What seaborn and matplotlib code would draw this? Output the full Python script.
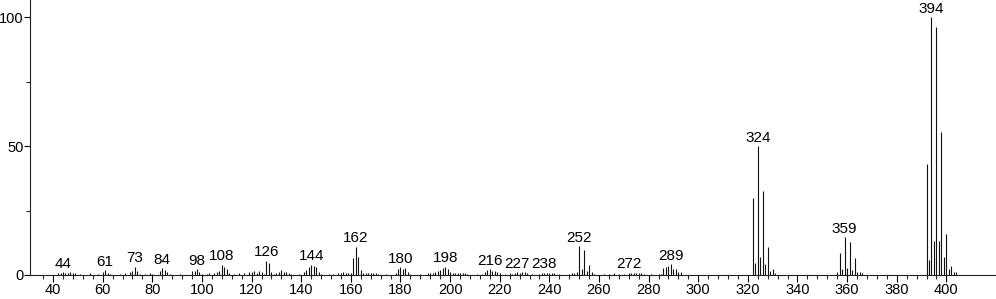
import numpy as np
import pandas as pd
import matplotlib
matplotlib.use("Agg")
import matplotlib.pyplot as plt
from matplotlib.ticker import FixedLocator
import seaborn as sns

# m/z values and relative intensities (%)
mz = [42, 43, 44, 45, 46, 47, 48, 49, 51, 55, 58, 60, 61, 62, 63, 67, 69, 71, 72, 73,
      74, 75, 77, 79, 80, 83, 84, 85, 86, 87, 91, 96, 97, 98, 99, 100, 102, 103, 105, 106,
      107, 108, 109, 110, 111, 113, 115, 117, 119, 120, 121, 122, 123, 124, 125, 126, 127, 128, 129, 130,
      131, 132, 133, 134, 135, 136, 139, 141, 142, 143, 144, 145, 146, 147, 148, 151, 153, 155, 156, 157,
      158, 159, 160, 161, 162, 163, 164, 165, 166, 167, 168, 169, 170, 171, 174, 178, 179, 180, 181, 182,
      183, 184, 188, 191, 192, 193, 194, 195, 196, 197, 198, 199, 200, 201, 202, 203, 204, 205, 206, 207,
      211, 213, 214, 215, 216, 217, 218, 219, 220, 222, 224, 225, 226, 227, 228, 229, 230, 231, 233, 236,
      237, 238, 239, 240, 241, 242, 244, 248, 249, 250, 251, 252, 253, 254, 255, 256, 257, 258, 262, 264,
      266, 268, 270, 272, 273, 274, 275, 276, 277, 278, 281, 284, 285, 286, 287, 288, 289, 290, 291, 292,
      293, 322, 323, 324, 325, 326, 327, 328, 329, 330, 331, 356, 357, 358, 359, 360, 361, 362, 363, 364,
      365, 366, 392, 393, 394, 395, 396, 397, 398, 399, 400, 401, 402, 403, 404]
intensity = [0.6, 0.8, 1.2, 0.8, 0.6, 1.0, 0.6, 0.8, 0.5, 0.8, 0.5, 1.2, 1.8, 0.8, 0.4, 0.5, 0.6, 1.0, 1.6, 3.2,
             1.4, 0.5, 0.5, 0.6, 0.4, 1.6, 2.6, 2.0, 1.2, 0.5, 0.4, 1.4, 1.6, 2.3, 1.2, 0.5, 0.5, 0.8, 0.6, 1.0,
             1.6, 4.0, 3.2, 2.2, 0.8, 0.5, 0.6, 0.6, 1.0, 1.3, 1.6, 0.8, 1.6, 1.0, 0.5, 5.6, 4.6, 1.0, 0.5, 0.8,
             1.2, 2.0, 1.2, 1.0, 0.6, 0.5, 0.5, 1.0, 2.0, 3.0, 4.0, 3.6, 3.0, 1.2, 0.5, 0.4, 0.5, 0.8, 0.6, 1.0,
             0.8, 0.6, 0.6, 6.7, 10.9, 7.0, 2.0, 0.6, 0.8, 0.6, 0.8, 0.6, 0.8, 0.5, 0.4, 0.6, 2.5, 3.0, 2.2, 2.7,
             1.2, 0.5, 0.4, 0.8, 0.8, 0.6, 1.0, 1.4, 1.8, 2.8, 3.2, 2.4, 1.2, 0.8, 0.8, 0.6, 0.8, 0.6, 0.6, 0.4,
             0.4, 0.5, 1.0, 2.0, 2.2, 1.5, 1.6, 1.2, 0.8, 0.4, 0.6, 0.5, 0.8, 1.2, 0.6, 1.0, 1.0, 0.6, 0.4, 0.5,
             0.8, 0.9, 0.8, 0.8, 0.8, 0.8, 0.3, 0.5, 0.6, 0.9, 1.2, 11.2, 2.2, 9.6, 1.4, 3.9, 1.0, 0.4, 0.4, 0.5,
             0.6, 0.5, 0.4, 0.9, 0.8, 0.6, 0.8, 0.6, 0.6, 0.5, 0.3, 0.4, 0.5, 2.6, 3.2, 3.4, 4.3, 2.5, 2.5, 1.0,
             1.0, 30.0, 4.6, 50.0, 7.0, 32.5, 4.3, 10.7, 1.7, 2.3, 0.8, 1.0, 8.4, 2.3, 14.6, 2.6, 12.9, 2.0, 6.5, 1.3,
             1.3, 0.8, 43.0, 6.0, 100.0, 13.3, 96.0, 13.3, 55.3, 7.0, 16.0, 2.3, 3.4, 1.0, 1.0]

# labelled peaks
label_mz = [44, 61, 73, 84, 98, 108, 126, 144, 162, 180, 198, 216, 227, 238, 252, 272, 289, 324, 359, 394]

x_ticks = list(range(40, 401, 20))
x_minor = [t for t in range(36, 401, 4) if t % 20 != 0]
y_ticks = [0, 50, 100]
y_minor = [25, 75]

df = pd.DataFrame({"mz": mz, "intensity": intensity})

sns.set_theme(style="ticks")
plt.rcParams["font.family"] = ["Liberation Sans", "DejaVu Sans"]

fig = plt.figure(figsize=(9.96, 2.99), dpi=100)
ax = fig.add_axes([30 / 996, 24 / 299, 966 / 996, 275 / 299])

ax.vlines(df["mz"], 0, df["intensity"], color="#111111", linewidth=0.8)

lookup = dict(zip(mz, intensity))
for m in label_mz:
    ax.annotate(str(m), xy=(m, lookup[m]), xytext=(0, 1), textcoords="offset points",
                ha="center", va="bottom", fontsize=11, color="black")

ax.set_xlim(30.7, 420)
ax.set_ylim(0, 106.6)
ax.set_xticks(x_ticks)
ax.set_xticklabels([str(t) for t in x_ticks])
ax.set_yticks(y_ticks)
ax.set_yticklabels([str(t) for t in y_ticks])
ax.xaxis.set_minor_locator(FixedLocator(x_minor))
ax.yaxis.set_minor_locator(FixedLocator(y_minor))
ax.tick_params(axis="x", which="major", direction="out", length=5, width=0.8,
               labelsize=10.5, pad=1, colors="black")
ax.tick_params(axis="x", which="minor", direction="out", length=3, width=0.8)
ax.tick_params(axis="y", which="major", direction="out", length=4, width=0.8,
               labelsize=10.5, pad=0.5, colors="black")
ax.tick_params(axis="y", which="minor", direction="out", length=3, width=0.8)
for s in ["left", "bottom"]:
    ax.spines[s].set_color("#222222")
    ax.spines[s].set_linewidth(0.8)
sns.despine(ax=ax)
ax.set_xlabel("")
ax.set_ylabel("")

fig.savefig("out.png", dpi=100)
